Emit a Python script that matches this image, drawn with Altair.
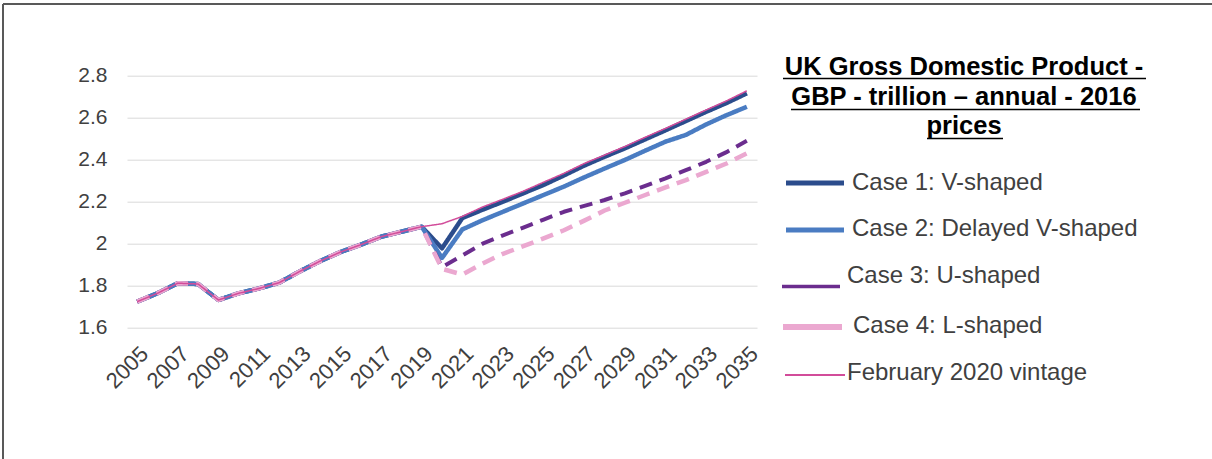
import altair as alt
import pandas as pd

# ---- data (GBP trillion, 2016 prices) ----
YEARS = list(range(2005, 2036))
HISTORY = [1.724, 1.764, 1.812, 1.808, 1.732, 1.764, 1.787, 1.815, 1.868,
           1.917, 1.960, 1.995, 2.033, 2.057, 2.081]            # 2005-2019
CASE1 = [1.978, 2.122, 2.162, 2.200, 2.240, 2.280, 2.325, 2.372, 2.414,
         2.454, 2.497, 2.540, 2.584, 2.628, 2.670, 2.716]       # 2020-2035
CASE2 = [1.932, 2.068, 2.112, 2.152, 2.192, 2.232, 2.272, 2.316, 2.358,
         2.399, 2.443, 2.486, 2.518, 2.568, 2.612, 2.652]
CASE3 = [1.888, 1.944, 2.000, 2.040, 2.077, 2.115, 2.152, 2.180, 2.208,
         2.240, 2.275, 2.311, 2.350, 2.390, 2.436, 2.490]
CASE4 = [1.880, 1.853, 1.906, 1.952, 1.988, 2.025, 2.064, 2.110, 2.158,
         2.195, 2.232, 2.268, 2.303, 2.342, 2.382, 2.430]
VINTAGE = [2.095, 2.130, 2.175, 2.212, 2.250, 2.293, 2.335, 2.382, 2.422,
           2.463, 2.507, 2.549, 2.593, 2.637, 2.680, 2.728]

SERIES = ["Case 1: V-shaped", "Case 2: Delayed V-shaped", "Case  3: U-shaped",
          "Case 4: L-shaped", "February 2020 vintage"]
PROJECTIONS = [CASE1, CASE2, CASE3, CASE4, VINTAGE]
COLORS = ["#2B4C8C", "#4A7CC2", "#6B2D8E", "#EBA8D0", "#D24C9A"]
WIDTHS = [4.5, 4.5, 4, 4.5, 1.5]
DASHES = [[1, 0], [1, 0], [13, 8], [13, 8], [1, 0]]
LEGEND_WIDTHS = [5, 5, 3.5, 6, 2]

TITLE_LINES = ["UK Gross Domestic Product -", "GBP - trillion \u2013 annual - 2016", "prices"]
Y_TICKS = [1.6, 1.8, 2.0, 2.2, 2.4, 2.6, 2.8]
X_LABELS = YEARS[::2]

rows = []
for name, proj in zip(SERIES, PROJECTIONS):
    for yr, v in zip(YEARS, HISTORY + proj):
        rows.append({"series": name, "year": yr, "gdp": v})
df = pd.DataFrame(rows)

FONT = "Liberation Sans"
TEXT_COLOR = "#404040"

# plot-area origin inside the page; used to place decorations in pixels
OX, OY = 127, 75.7
W, H = 630, 252

x_enc = alt.X("year:O", title=None,
              scale=alt.Scale(type="point", padding=0.5),
              axis=alt.Axis(values=X_LABELS, labelAngle=-45, labelFontSize=22,
                            labelFont=FONT, labelColor=TEXT_COLOR, ticks=False,
                            domain=False, grid=False, labelPadding=15,
                            labelAlign="right", labelBaseline="top"))
y_enc = alt.Y("gdp:Q", title=None,
              scale=alt.Scale(domain=[1.6, 2.8], nice=False, zero=False),
              axis=alt.Axis(values=Y_TICKS, format=".1~f", labelFontSize=21,
                            labelFont=FONT, labelColor=TEXT_COLOR, ticks=False,
                            domain=False, gridColor="#D9D9D9", gridWidth=1,
                            labelPadding=20))

layers = []
for i, name in enumerate(SERIES):
    layers.append(
        alt.Chart(df).transform_filter(alt.datum.series == name)
        .mark_line(color=COLORS[i], strokeWidth=WIDTHS[i], strokeDash=DASHES[i],
                   strokeCap="butt", strokeJoin="round")
        .encode(x=x_enc, y=y_enc)
    )

one = alt.Data(values=[{}])

# outer frame (top and left edges)
layers.append(alt.Chart(one).mark_rule(color="#595959", strokeWidth=2).encode(
    x=alt.value(3 - OX), x2=alt.value(1212 - OX), y=alt.value(4 - OY)))
layers.append(alt.Chart(one).mark_rule(color="#595959", strokeWidth=2).encode(
    x=alt.value(3 - OX), y=alt.value(4 - OY), y2=alt.value(459 - OY)))

# title block with underlines
title_base = [74.5, 105, 134]
underline = [(783, 1146, 78.5), (791, 1140, 109.5), (927, 1003, 138.5)]
for line, yb, (ux1, ux2, uy) in zip(TITLE_LINES, title_base, underline):
    layers.append(alt.Chart(alt.Data(values=[{"t": line}])).mark_text(
        font=FONT, fontSize=25.5, fontWeight="bold", color="#000000",
        align="center", baseline="alphabetic").encode(
        x=alt.value(964 - OX), y=alt.value(yb - OY), text="t:N"))
    layers.append(alt.Chart(one).mark_rule(color="#000000", strokeWidth=1.5).encode(
        x=alt.value(ux1 - OX), x2=alt.value(ux2 - OX), y=alt.value(uy - OY)))

# legend entries
sym_x = [(786, 844), (786, 844), (782, 840), (783, 842), (785, 845)]
sym_y = [183, 230, 286.5, 327, 375]
txt_x = [852, 852, 847, 853, 847]
txt_y = [183, 229, 276, 326, 373]
for i, name in enumerate(SERIES):
    layers.append(alt.Chart(one).mark_rule(color=COLORS[i], strokeWidth=LEGEND_WIDTHS[i]).encode(
        x=alt.value(sym_x[i][0] - OX), x2=alt.value(sym_x[i][1] - OX),
        y=alt.value(sym_y[i] - OY)))
    layers.append(alt.Chart(alt.Data(values=[{"t": name}])).mark_text(
        font=FONT, fontSize=24, color=TEXT_COLOR, align="left",
        baseline="middle").encode(
        x=alt.value(txt_x[i] - OX), y=alt.value(txt_y[i] - OY), text="t:N"))

chart = alt.layer(*layers).properties(
    width=W, height=H, autosize="none",
    padding={"left": OX, "top": OY, "right": 1212 - OX - W, "bottom": 459 - OY - H},
    background="#FFFFFF",
).configure_view(stroke="transparent")

chart.save("out.html", embed_options={"renderer": "svg", "actions": False})
